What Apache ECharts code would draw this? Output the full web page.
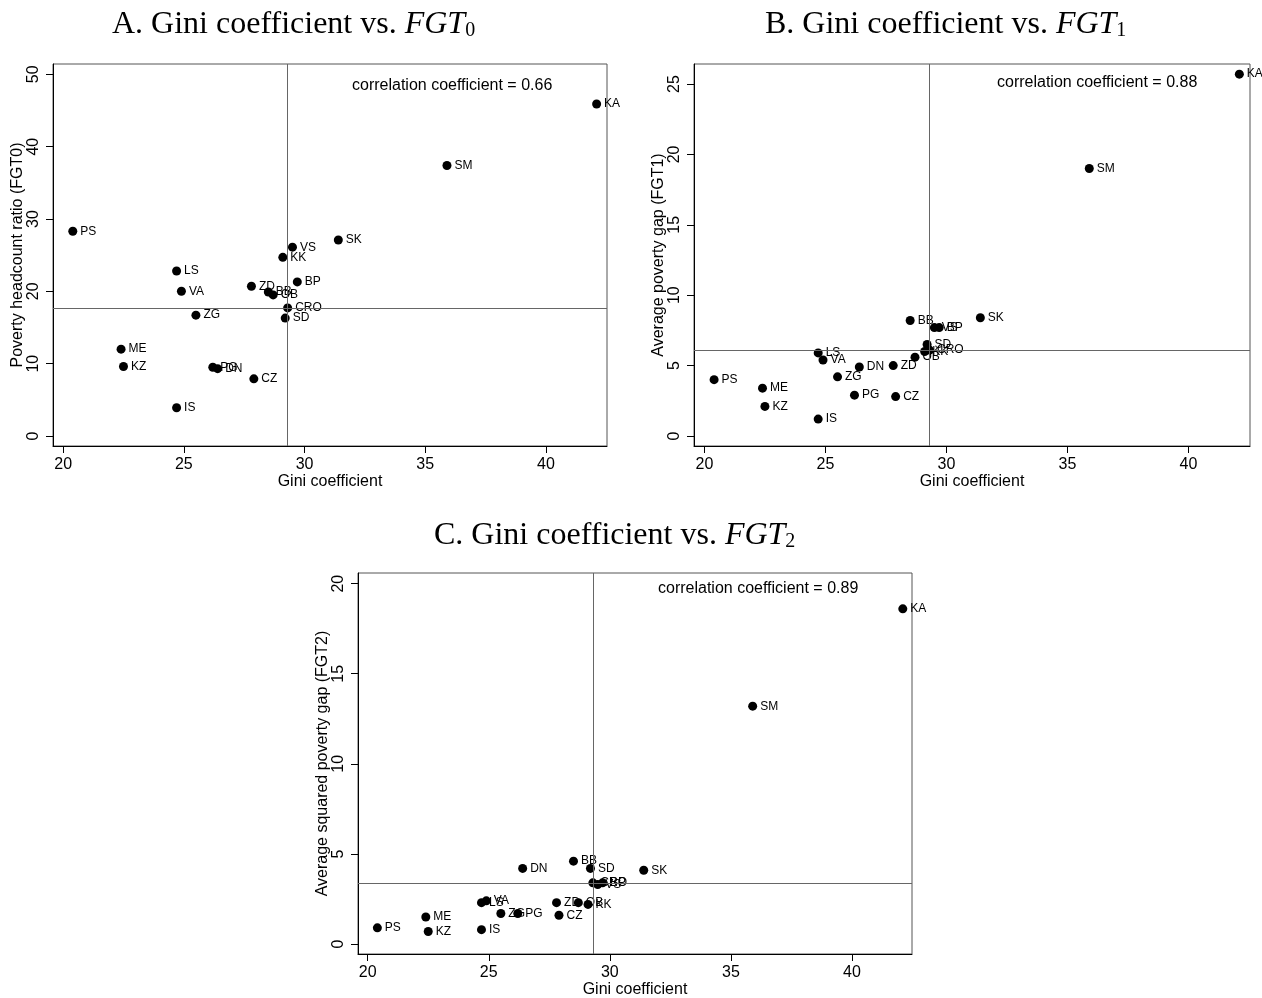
<!DOCTYPE html>
<html>
<head>
<meta charset="utf-8">
<script src="https://cdn.jsdelivr.net/npm/echarts@6/dist/echarts.min.js"></script>
<style>
  html, body { margin: 0; padding: 0; background: #fff; }
  #chart { width: 1262px; height: 998px; }
</style>
</head>
<body>
<div id="chart"></div>
<script>
// regions and their values
const regions = ['PS', 'ME', 'KZ', 'LS', 'IS', 'VA', 'ZG', 'PG', 'DN', 'ZD', 'CZ', 'BB', 'OB', 'KK', 'SD', 'CRO', 'VS', 'BP', 'SK', 'SM', 'KA'];
const gini = [20.4, 22.4, 22.5, 24.7, 24.7, 24.9, 25.5, 26.2, 26.4, 27.8, 27.9, 28.5, 28.7, 29.1, 29.2, 29.3, 29.5, 29.7, 31.4, 35.9, 42.1];
const fgt0 = [28.3, 12.0, 9.6, 22.8, 3.9, 20.0, 16.7, 9.5, 9.3, 20.7, 7.9, 19.9, 19.5, 24.7, 16.3, 17.7, 26.1, 21.3, 27.1, 37.4, 45.9];
const fgt1 = [4.0, 3.4, 2.1, 5.9, 1.2, 5.4, 4.2, 2.9, 4.9, 5.0, 2.8, 8.2, 5.6, 6.0, 6.5, 6.1, 7.7, 7.7, 8.4, 19.0, 25.7];
const fgt2 = [0.9, 1.5, 0.7, 2.3, 0.8, 2.4, 1.7, 1.7, 4.2, 2.3, 1.6, 4.6, 2.3, 2.2, 4.2, 3.4, 3.3, 3.4, 4.1, 13.2, 18.6];

// reference lines drawn across each panel
const refGini = 29.3;
const refFgt = [17.7, 6.1, 3.4];

const correlations = ['0.66', '0.88', '0.89'];
const giniTicks = [20, 25, 30, 35, 40];
const fgtTicks = [[0, 10, 20, 30, 40, 50], [0, 5, 10, 15, 20, 25], [0, 5, 10, 15, 20]];
const yNames = ['Poverty headcount ratio (FGT0)', 'Average poverty gap (FGT1)', 'Average squared poverty gap (FGT2)'];
const panelLetters = ['A', 'B', 'C'];

const SANS = "'Liberation Sans', Arial, sans-serif";
const SERIF = "'Liberation Serif', 'Times New Roman', serif";

// layout of the three panels
const grids = [
  { left: 53, top: 64, width: 554, height: 382 },
  { left: 694, top: 64, width: 556, height: 382 },
  { left: 358, top: 573, width: 554, height: 381 }
];
const xRanges = [[19.58, 42.53], [19.57, 42.54], [19.6, 42.48]];
const yRanges = [[-1.39, 51.43], [-0.71, 26.42], [-0.55, 20.59]];
const titlePos = [{ left: 112, top: 9 }, { left: 765, top: 9 }, { left: 434, top: 520 }];
const corrPos = [{ left: 352, top: 78 }, { left: 997, top: 75 }, { left: 658, top: 581 }];

const fgtData = [fgt0, fgt1, fgt2];

function panelTitle(i) {
  const base = { fontFamily: SERIF, fontWeight: 'normal', color: '#000', verticalAlign: 'top' };
  return {
    text: '{m|' + panelLetters[i] + '. Gini coefficient vs. }{i|FGT}{s|' + i + '}',
    left: titlePos[i].left, top: titlePos[i].top, padding: 0,
    textStyle: {
      fontWeight: 'normal',
      rich: {
        m: { ...base, fontSize: 32, lineHeight: 30 },
        i: { ...base, fontSize: 32, lineHeight: 30, fontStyle: 'italic' },
        s: { ...base, fontSize: 20, lineHeight: 20, padding: [12, 0, 0, 0] }
      }
    }
  };
}

function corrTitle(i) {
  return {
    text: 'correlation coefficient = ' + correlations[i],
    left: corrPos[i].left, top: corrPos[i].top, padding: 0,
    textStyle: { fontFamily: SANS, fontSize: 16, fontWeight: 'normal', color: '#000' }
  };
}

function xAxisFor(i) {
  return {
    type: 'value', gridIndex: i, min: xRanges[i][0], max: xRanges[i][1],
    name: 'Gini coefficient', nameLocation: 'middle', nameGap: 23,
    nameTextStyle: { fontFamily: SANS, fontSize: 16, color: '#000' },
    axisLine: { show: true, onZero: false, lineStyle: { color: '#000', width: 1 } },
    axisTick: { show: true, length: 7, lineStyle: { color: '#000' }, customValues: giniTicks },
    axisLabel: { fontFamily: SANS, fontSize: 16, color: '#000', margin: 11, customValues: giniTicks },
    splitLine: { show: false }
  };
}

function yAxisFor(i) {
  return {
    type: 'value', gridIndex: i, min: yRanges[i][0], max: yRanges[i][1],
    name: yNames[i], nameLocation: 'middle', nameGap: 27,
    nameTextStyle: { fontFamily: SANS, fontSize: 16, color: '#000' },
    axisLine: { show: true, onZero: false, lineStyle: { color: '#000', width: 1 } },
    axisTick: { show: true, length: 7, lineStyle: { color: '#000' }, customValues: fgtTicks[i] },
    axisLabel: { fontFamily: SANS, fontSize: 16, color: '#000', margin: 11, rotate: 90, customValues: fgtTicks[i] },
    splitLine: { show: false }
  };
}

function seriesFor(i) {
  const values = fgtData[i];
  return {
    type: 'scatter', xAxisIndex: i, yAxisIndex: i,
    symbol: 'circle', symbolSize: 9,
    itemStyle: { color: '#000', opacity: 1 },
    label: {
      show: true, position: 'right', distance: 3,
      fontFamily: SANS, fontSize: 12, color: '#000',
      formatter: p => p.data[2]
    },
    emphasis: { disabled: true },
    markLine: {
      silent: true, symbol: 'none', animation: false,
      label: { show: false },
      lineStyle: { color: '#666', width: 1, type: 'solid', opacity: 1 },
      data: [{ xAxis: refGini }, { yAxis: refFgt[i] }]
    },
    data: regions.map((r, k) => [gini[k], values[k], r])
  };
}

const chart = echarts.init(document.getElementById('chart'));
chart.setOption({
  animation: false,
  backgroundColor: '#fff',
  title: [0, 1, 2].map(panelTitle).concat([0, 1, 2].map(corrTitle)),
  grid: grids.map(g => ({ ...g, show: true, borderColor: '#555', borderWidth: 1, backgroundColor: 'transparent', containLabel: false, outerBoundsMode: 'none' })),
  xAxis: [0, 1, 2].map(xAxisFor),
  yAxis: [0, 1, 2].map(yAxisFor),
  series: [0, 1, 2].map(seriesFor)
});
</script>
</body>
</html>
